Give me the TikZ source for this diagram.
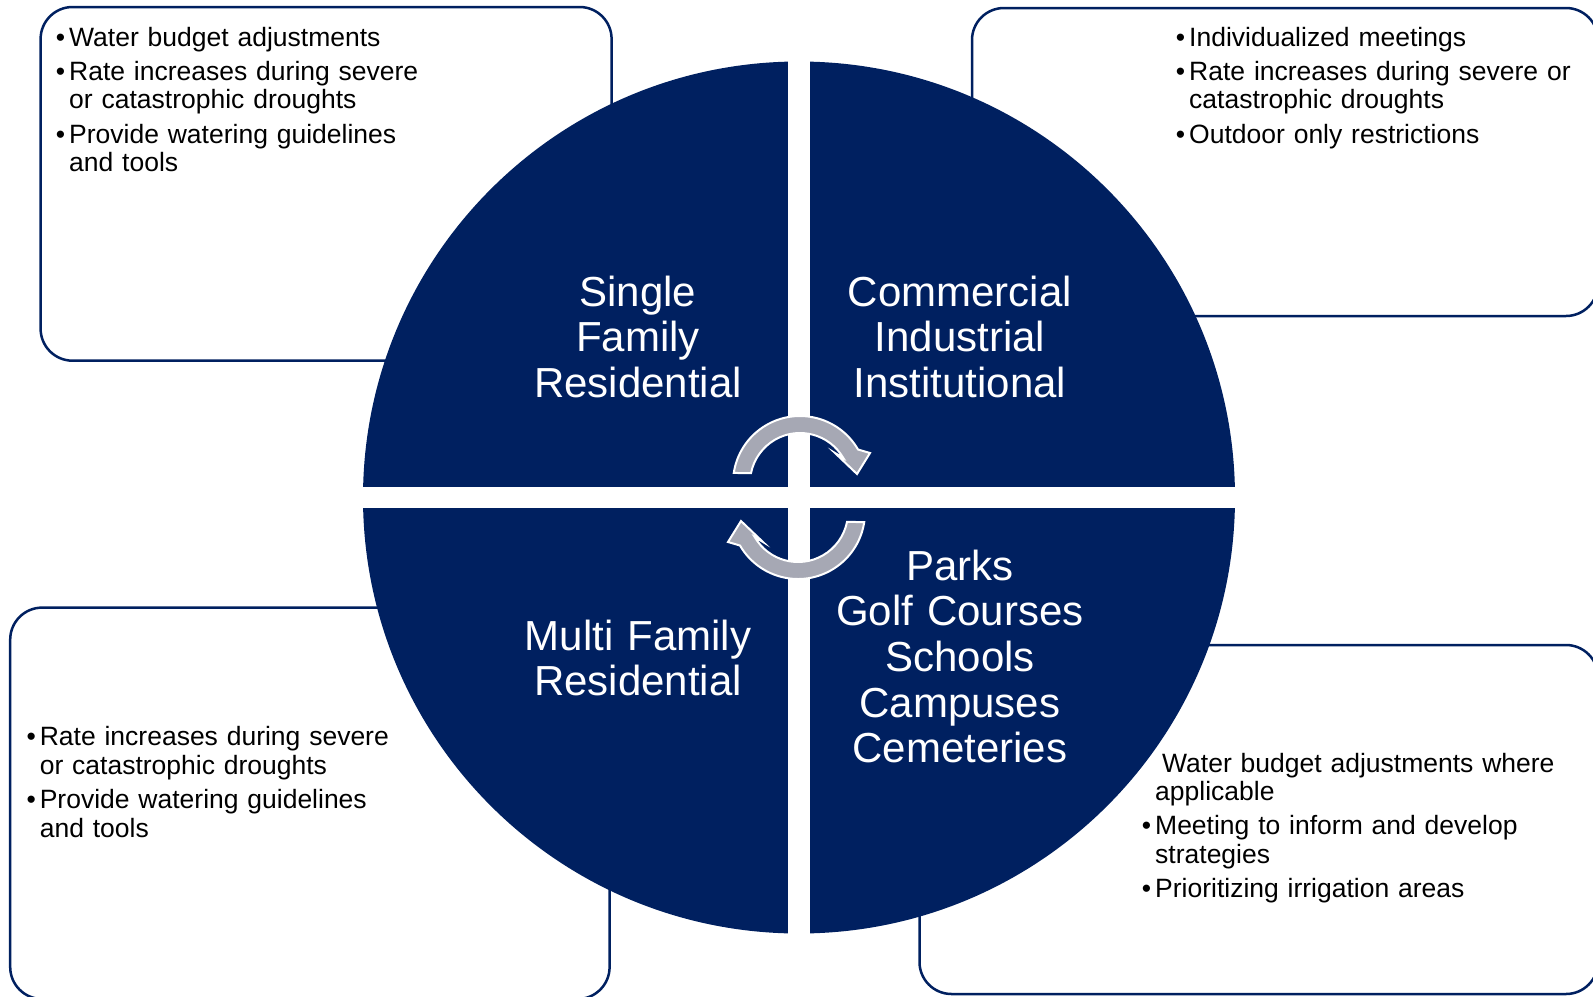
\documentclass[tikz,border=0pt]{standalone}
\usepackage{fontspec}
\setmainfont{Liberation Sans}
\usetikzlibrary{calc}
\definecolor{navy}{RGB}{0,32,96}
\definecolor{arrowgray}{RGB}{166,168,180}
\newcommand{\bul}{\leavevmode\llap{•\hspace{4pt}}}
\begin{document}
\begin{tikzpicture}[x=1pt,y=-1pt,
  box/.style={draw=navy, line width=2.5pt, fill=white, rounded corners=32pt},
  quad/.style={fill=navy},
  bigtext/.style={text=white, font=\fontsize{42}{45.7}\selectfont, align=center, text width=330pt, inner sep=0pt, anchor=base},
  boxtext/.style={text=black, font=\fontsize{26.5}{28.45}\selectfont, align=left, text width=430pt, inner sep=0pt, anchor=base west},
  cyc/.style={fill=arrowgray, draw=white, line width=2pt, line join=miter}
]
\useasboundingbox (0,0) rectangle (1593,996);

% boxes behind the circle
\draw[box] (40.6,7) rectangle (611.6,360.7);
\draw[box] (972,8) rectangle (1598,316);
\draw[box] (10.2,607.6) rectangle (609.6,999);
\draw[box] (919.5,645) rectangle (1598,994);

% circle quadrants
\begin{scope}
\clip (799,497.5) circle[radius=436pt];
\fill[quad] (360,55) rectangle (788,487);
\fill[quad] (810,55) rectangle (1240,487);
\fill[quad] (360,508) rectangle (788,940);
\fill[quad] (810,508) rectangle (1240,940);
\end{scope}

% cycle arrows
\path[cyc] ($(800,483)+(171.4:67pt)$) arc[start angle=171.4, end angle=30, radius=67pt]
  -- (870,453) -- (857,474) -- (835,453)
  -- ($(800,483)+(30:50pt)$) arc[start angle=30, end angle=168.5, radius=50pt] -- cycle;
\path[cyc] ($(798,512)+(351.4:67pt)$) arc[start angle=351.4, end angle=210, radius=67pt]
  -- (728,542) -- (741,521) -- (763,542)
  -- ($(798,512)+(210:50pt)$) arc[start angle=210, end angle=348.5, radius=50pt] -- cycle;

% quadrant labels
\node[bigtext] (sfr) at (638,306) {Single\\Family\\Residential};
\node[bigtext] (cii) at (960,306) {Commercial\\Industrial\\Institutional};
\node[bigtext] (mfr) at (638,650) {Multi Family\\Residential};
\node[bigtext] (parks) at (960,580) {Parks\\Golf Courses\\Schools\\Campuses\\Cemeteries};

% box texts
\node[boxtext] (tltext) at (69,46) {\bul Water budget adjustments\\[6pt]
\bul Rate increases during severe\\
or catastrophic droughts\\[6pt]
\bul Provide watering guidelines\\
and tools};
\node[boxtext] (trtext) at (1189,46) {\bul Individualized meetings\\[6pt]
\bul Rate increases during severe or\\
catastrophic droughts\\[6pt]
\bul Outdoor only restrictions};
\node[boxtext] (bltext) at (39.6,745.7) {\bul Rate increases during severe\\
or catastrophic droughts\\[6pt]
\bul Provide watering guidelines\\
and tools};
\node[boxtext] (brtext) at (1155,772) {\hspace*{7pt}Water budget adjustments where\\
applicable\\[6pt]
\bul Meeting to inform and develop\\
strategies\\[6pt]
\bul Prioritizing irrigation areas};
\end{tikzpicture}
\end{document}
